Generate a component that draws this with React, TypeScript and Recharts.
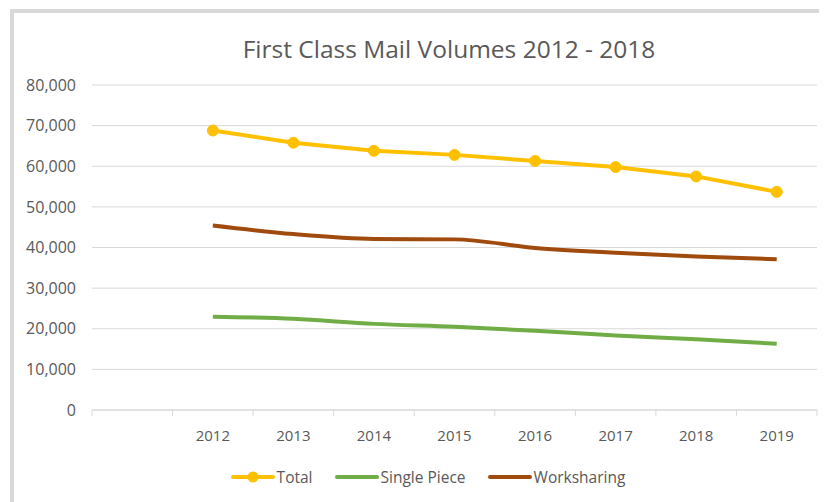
import React from 'react';
import { LineChart, Line, XAxis, YAxis, CartesianGrid } from 'recharts';

const years = ['', '2012', '2013', '2014', '2015', '2016', '2017', '2018', '2019'];
const total = [null, 68800, 65800, 63800, 62800, 61300, 59800, 57500, 53700];
const singlePiece = [null, 22950, 22450, 21200, 20500, 19500, 18350, 17400, 16300];
const worksharing = [null, 45400, 43300, 42100, 42000, 39900, 38700, 37800, 37100];
const yTicks = [0, 10000, 20000, 30000, 40000, 50000, 60000, 70000, 80000];

const series = [
  { key: 'total', name: 'Total', color: '#FFC000', dot: true, curve: 'linear' },
  { key: 'singlePiece', name: 'Single Piece', color: '#70AD47', dot: false, curve: 'monotone' },
  { key: 'worksharing', name: 'Worksharing', color: '#A04A0E', dot: false, curve: 'monotone' },
];

const data = years.map((y, i) => ({
  year: y,
  total: total[i],
  singlePiece: singlePiece[i],
  worksharing: worksharing[i],
}));

const FONT = '"Open Sans", sans-serif';
const TEXT = '#595959';
const CHART_W = 827;
const MARGIN = { top: 85, right: 10, bottom: 62, left: 0 };
const Y_W = 92;
const BAND = (CHART_W - MARGIN.right - MARGIN.left - Y_W) / years.length;

const XTick = (props: any) => {
  const { x, y, payload, index } = props;
  const half = BAND / 2;
  const axisY = y - 20;
  return (
    <g>
      <line x1={x - half} y1={axisY} x2={x - half} y2={axisY + 6} stroke="#d9d9d9" />
      {index === years.length - 1 && (
        <line x1={x + half} y1={axisY} x2={x + half} y2={axisY + 6} stroke="#d9d9d9" />
      )}
      <text x={x} y={axisY + 31} textAnchor="middle" fill={TEXT} fontSize={15} fontFamily={FONT}>
        {payload.value}
      </text>
    </g>
  );
};

export default function App() {
  return (
    <div style={{ position: 'relative', width: 827, height: 502, marginLeft: -8, marginTop: -8, background: '#fff', fontFamily: FONT, overflow: 'hidden' }}>
      <div style={{ position: 'absolute', left: 10, top: 9, width: 4, height: 493, background: '#d9d9d9' }} />
      <div style={{ position: 'absolute', left: 10, top: 9, width: 817, height: 4, background: '#d9d9d9' }} />
      <div style={{ position: 'absolute', left: 0, width: 898, top: 33, textAlign: 'center', fontSize: 24.5, color: TEXT, lineHeight: '32px' }}>
        First Class Mail Volumes 2012 - 2018
      </div>
      <div style={{ position: 'absolute', left: 0, top: 0 }}>
        <LineChart width={CHART_W} height={502} data={data} margin={MARGIN}>
          <CartesianGrid vertical={false} stroke="#d9d9d9" strokeWidth={1} />
          <XAxis
            dataKey="year"
            scale="band"
            interval={0}
            stroke="#d9d9d9"
            tickLine={false}
            tickSize={6}
            tickMargin={14}
            height={30}
            tick={<XTick />}
          />
          <YAxis
            width={Y_W}
            domain={[0, 80000]}
            ticks={yTicks}
            axisLine={false}
            tickLine={false}
            tickSize={0}
            tickMargin={16}
            tickFormatter={(v: number) => v.toLocaleString('en-US')}
            tick={{ fill: TEXT, fontSize: 16, fontFamily: FONT }}
          />
          {series.map((s) => (
            <Line
              key={s.key}
              type={s.curve as any}
              dataKey={s.key}
              name={s.name}
              stroke={s.color}
              strokeWidth={4}
              strokeLinejoin="round"
              dot={s.dot ? { r: 5.5, fill: s.color, stroke: s.color, strokeWidth: 1 } : false}
              activeDot={false}
              isAnimationActive={false}
            />
          ))}
        </LineChart>
      </div>
      <div style={{ position: 'absolute', left: 0, width: 827, top: 465, display: 'flex', justifyContent: 'center', paddingLeft: 51, boxSizing: 'border-box', fontSize: 15.5, color: TEXT, lineHeight: '24px' }}>
        {series.map((s) => (
          <div key={s.key} style={{ display: 'flex', alignItems: 'center', marginRight: 22 }}>
            <svg width={44} height={24} style={{ marginRight: 2 }}>
              <line x1={2} y1={12} x2={42} y2={12} stroke={s.color} strokeWidth={4} strokeLinecap="round" />
              {s.dot && <circle cx={22} cy={12} r={5.5} fill={s.color} />}
            </svg>
            <span>{s.name}</span>
          </div>
        ))}
      </div>
    </div>
  );
}
